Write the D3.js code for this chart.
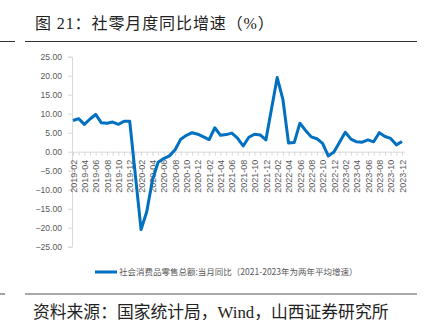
<!DOCTYPE html>
<html><head><meta charset="utf-8">
<script src="https://cdn.jsdelivr.net/npm/d3@7"></script>
<style>html,body{margin:0;padding:0;background:#fff;}svg{display:block;}</style>
</head><body>
<svg id="c" width="428" height="327"></svg>
<script>
const months = [
 "2019-02","2019-03","2019-04","2019-05","2019-06","2019-07","2019-08","2019-09","2019-10","2019-11","2019-12",
 "2020-01","2020-02","2020-03","2020-04","2020-05","2020-06","2020-07","2020-08","2020-09","2020-10","2020-11","2020-12",
 "2021-01","2021-02","2021-03","2021-04","2021-05","2021-06","2021-07","2021-08","2021-09","2021-10","2021-11","2021-12",
 "2022-01","2022-02","2022-03","2022-04","2022-05","2022-06","2022-07","2022-08","2022-09","2022-10","2022-11","2022-12",
 "2023-01","2023-02","2023-03","2023-04","2023-05","2023-06","2023-07","2023-08","2023-09","2023-10","2023-11","2023-12"];
const values = [
 8.2, 8.7, 7.2, 8.6, 9.8, 7.6, 7.5, 7.8, 7.2, 8.0, 8.0,
 null, -20.5, -15.8, -7.5, -2.8, -1.8, -1.1, 0.5, 3.3, 4.3, 5.0, 4.6,
 null, 3.2, 6.3, 4.3, 4.5, 4.9, 3.6, 1.5, 3.8, 4.6, 4.4, 3.1,
 null, 19.5, 13.8, 2.3, 2.4, 7.5, 5.6, 3.9, 3.4, 2.2, -1.1, -0.1,
 null, 5.1, 3.3, 2.6, 2.5, 3.1, 2.6, 5.0, 4.0, 3.5, 1.8, 2.7];
const yTicks = [-25, -20, -15, -10, -5, 0, 5, 10, 15, 20, 25];
const xLabels = months.filter((m, i) => i % 2 === 0);
const title = "图 21：社零月度同比增速（%）";
const legendLabel = "社会消费品零售总额:当月同比（2021-2023年为两年平均增速）";
const source = "资料来源：国家统计局，Wind，山西证券研究所";

const svg = d3.select("#c");
const blue = "#0070C0", grey = "#595959", axisC = "#d9d9d9";
const cjk = "'Liberation Serif','Noto Sans CJK SC',serif";
const sans = "'Liberation Sans','Noto Sans CJK SC',sans-serif";

const x = d3.scalePoint().domain(months).range([73, 402]);
const y = d3.scaleLinear().domain([-25, 25]).range([246.7, 56.7]);

// title & rules
svg.append("text").attr("x", 35).attr("y", 29).attr("font-family", cjk).attr("font-size", 16)
  .attr("letter-spacing", 0.9).attr("fill", "#222").text(title);
svg.append("line").attr("x1", 0).attr("x2", 15).attr("y1", 41.5).attr("y2", 41.5).attr("stroke", "#333").attr("stroke-width", 1);
svg.append("line").attr("x1", 25).attr("x2", 417).attr("y1", 41.5).attr("y2", 41.5).attr("stroke", "#333").attr("stroke-width", 1);
svg.append("line").attr("x1", 0).attr("x2", 5).attr("y1", 294).attr("y2", 294).attr("stroke", "#8c8c8c").attr("stroke-width", 1.6);
svg.append("line").attr("x1", 25).attr("x2", 417).attr("y1", 294).attr("y2", 294).attr("stroke", "#8c8c8c").attr("stroke-width", 1.6);
svg.append("text").attr("x", 33).attr("y", 318).attr("font-family", cjk).attr("font-size", 16.8)
  .attr("fill", "#222").text(source);

// y axis
const yAxis = d3.axisLeft(y).tickValues(yTicks).tickFormat(d3.format(".2f")).tickSize(4).tickPadding(6);
const gy = svg.append("g").attr("transform", "translate(72,0)").call(yAxis);
gy.select(".domain").attr("stroke", axisC);
gy.selectAll(".tick line").attr("stroke", axisC);
gy.selectAll("text").attr("fill", grey).attr("font-family", sans).attr("font-size", 8.6);

// x axis at zero
const xAxis = d3.axisBottom(x).tickValues(months).tickSize(4).tickFormat(d => xLabels.includes(d) ? d : "");
const gx = svg.append("g").attr("transform", `translate(0,${y(0)})`).call(xAxis);
gx.select(".domain").attr("stroke", axisC).attr("d", `M72,0.5H405`);
gx.selectAll(".tick line").attr("stroke", axisC);
gx.selectAll("text").attr("fill", grey).attr("font-family", sans).attr("font-size", 9)
  .attr("transform", "rotate(-90)").attr("text-anchor", "end").attr("x", -8).attr("y", 0).attr("dy", "0.35em");

// line
const pts = months.map((m, i) => ({m, v: values[i]})).filter(d => d.v !== null);
svg.append("path").datum(pts).attr("fill", "none").attr("stroke", blue).attr("stroke-width", 3)
  .attr("stroke-linejoin", "round")
  .attr("d", d3.line().x(d => x(d.m)).y(d => y(d.v)));

// legend
svg.append("line").attr("x1", 95).attr("x2", 117).attr("y1", 272).attr("y2", 272).attr("stroke", blue).attr("stroke-width", 3);
svg.append("text").attr("x", 119).attr("y", 275).attr("font-family", "'Noto Sans CJK SC',sans-serif").attr("font-size", 8.5)
  .attr("fill", grey).text(legendLabel);
</script>
</body></html>
